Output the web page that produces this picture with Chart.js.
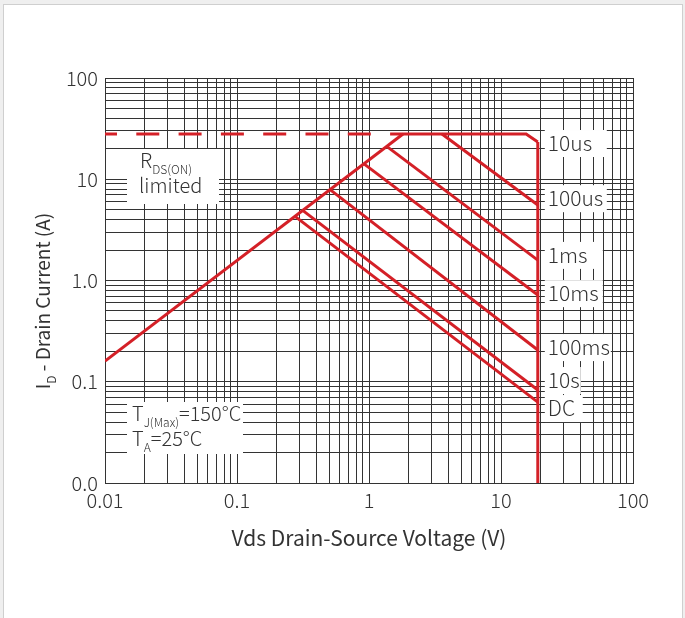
<!DOCTYPE html>
<html>
<head>
<meta charset="utf-8">
<script src="https://cdn.jsdelivr.net/npm/chart.js@4.4.1/dist/chart.umd.min.js"></script>
<style>
  html, body { margin: 0; padding: 0; background: #efefef; }
  #card { position: absolute; left: 3px; top: 4px; width: 678px; height: 640px; background: #fff; border: 1px solid #cfcfcf; }
  #wrap { position: absolute; left: 0; top: 0; width: 685px; height: 618px; }
</style>
</head>
<body>
<div id="card"></div>
<div id="wrap"><canvas id="soa" width="685" height="618"></canvas></div>
<script>
const FONT = "'Noto Sans CJK SC', 'Noto Sans', sans-serif";
const RED = '#d42027';
const INK = '#333';

// axis decades and their labels
const decades = [0.01, 0.1, 1, 10, 100];
const xTickLabels = ['0.01', '0.1', '1', '10', '100'];
const yTickLabels = ['0.0', '0.1', '1.0', '10', '100'];

// SOA curves: Vds (V) and Id (A)
const rdsLineV = [0.01, 1.81];
const rdsLineI = [0.16, 28];
const rdsLimitV = [0.01, 1.81];
const rdsLimitI = [28, 28];
const us10V = [1.81, 15.5, 19];
const us10I = [28, 28, 23.3];
const vmaxV = [19, 19];
const vmaxI = [23.3, 0.01];
const us100V = [3.57, 19];
const us100I = [28, 5.57];
const ms1V = [1.37, 19];
const ms1I = [21, 1.59];
const ms10V = [0.916, 19];
const ms10I = [14.2, 0.719];
const ms100V = [0.507, 19];
const ms100I = [7.9, 0.206];
const s10V = [0.316, 19];
const s10I = [4.9, 0.083];
const dcV = [0.275, 19];
const dcI = [4.3, 0.063];

const curveNames = ['10us', '100us', '1ms', '10ms', '100ms', '10s', 'DC'];
const curveTagI = [22.8, 6.5, 1.79, 0.75, 0.22, 0.104, 0.055];
const tagBoxW = [62, 62, 58, 58, 66, 36, 38];

// log grid: 1..9 in every decade
const gridVals = [];
decades.slice(0, -1).forEach(d => {
    for (let k = 1; k < 10; k++) gridVals.push(parseFloat((d * k).toPrecision(3)));
});
gridVals.push(decades[decades.length - 1]);

const pts = (xs, ys) => xs.map((x, i) => ({ x: x, y: ys[i] }));
const curve = (label, xs, ys, extra) => Object.assign({
    label: label,
    data: pts(xs, ys),
    borderColor: RED,
    borderWidth: 3,
    pointRadius: 0,
    fill: false,
    tension: 0
}, extra || {});

function drawSub(ctx, x, y, main, sub, rest) {
    ctx.font = `300 20px ${FONT}`;
    ctx.fillText(main, x, y);
    x += ctx.measureText(main).width;
    ctx.font = `300 12px ${FONT}`;
    ctx.fillText(sub, x, y + 6);
    x += ctx.measureText(sub).width;
    if (rest) {
        ctx.font = `300 20px ${FONT}`;
        ctx.fillText(rest, x, y);
    }
}

const notes = {
    id: 'notes',
    beforeDatasetsDraw(chart) {
        const { ctx, chartArea: a, scales: { x, y } } = chart;
        ctx.save();
        ctx.fillStyle = '#fff';
        ctx.fillRect(a.left + 22, a.top + 71, 92, 55);
        ctx.fillRect(a.left + 22, a.top + 324, 116, 52);
        const tx = x.getPixelForValue(19) + 10;
        curveNames.forEach((n, i) => {
            const cy = y.getPixelForValue(curveTagI[i]);
            ctx.fillRect(tx - 3, cy - 13, tagBoxW[i], 27);
        });
        ctx.restore();
    },
    afterDatasetsDraw(chart) {
        const { ctx, chartArea: a, scales: { x, y } } = chart;
        ctx.save();
        ctx.fillStyle = INK;
        ctx.textAlign = 'left';
        ctx.textBaseline = 'alphabetic';
        drawSub(ctx, a.left + 35, a.top + 90, 'R', 'DS(ON)');
        ctx.font = `300 20px ${FONT}`;
        ctx.fillText('limited', a.left + 34, a.top + 115);
        drawSub(ctx, a.left + 27, a.top + 343, 'T', 'J(Max)', '=150°C');
        drawSub(ctx, a.left + 27, a.top + 368, 'T', 'A', '=25°C');

        ctx.textBaseline = 'middle';
        ctx.font = `300 21px ${FONT}`;
        const tx = x.getPixelForValue(19) + 10;
        curveNames.forEach((n, i) => ctx.fillText(n, tx, y.getPixelForValue(curveTagI[i])));

        // y axis title with subscript
        ctx.translate(50, 301);
        ctx.rotate(-Math.PI / 2);
        ctx.textBaseline = 'alphabetic';
        const big = `400 19px ${FONT}`, small = `400 12px ${FONT}`;
        ctx.font = big;
        const w1 = ctx.measureText('I').width, w3 = ctx.measureText(' - Drain Current (A)').width;
        ctx.font = small;
        const w2 = ctx.measureText('D').width;
        let px = -(w1 + w2 + w3) / 2;
        ctx.font = big; ctx.fillText('I', px, 0); px += w1;
        ctx.font = small; ctx.fillText('D', px, 6); px += w2;
        ctx.font = big; ctx.fillText(' - Drain Current (A)', px, 0);
        ctx.restore();
    }
};

const tickFont = { family: FONT, size: 20, weight: 300 };

new Chart(document.getElementById('soa'), {
    type: 'line',
    data: {
        datasets: [
            curve('RDS(ON) limited', rdsLimitV, rdsLimitI, { borderDash: [23, 19.3], borderDashOffset: 11 }),
            curve('RDS(ON)', rdsLineV, rdsLineI),
            curve('10us', us10V, us10I),
            curve('Vds max', vmaxV, vmaxI),
            curve('100us', us100V, us100I),
            curve('1ms', ms1V, ms1I),
            curve('10ms', ms10V, ms10I),
            curve('100ms', ms100V, ms100I),
            curve('10s', s10V, s10I),
            curve('DC', dcV, dcI)
        ]
    },
    options: {
        responsive: false,
        animation: false,
        devicePixelRatio: 1,
        layout: { padding: { left: 0, top: 78, right: 52, bottom: 0 } },
        plugins: { legend: { display: false }, tooltip: { enabled: false } },
        scales: {
            x: {
                type: 'logarithmic',
                min: 0.01,
                max: 100,
                afterBuildTicks: ax => { ax.ticks = gridVals.map(v => ({ value: v })); },
                afterFit: ax => { ax.height = 135; },
                grid: { color: '#333', lineWidth: 1, drawTicks: false },
                border: { color: '#333', width: 1 },
                ticks: {
                    autoSkip: false, maxRotation: 0, padding: 5, color: INK, font: tickFont,
                    callback: v => { const i = decades.indexOf(v); return i >= 0 ? xTickLabels[i] : ''; }
                },
                title: {
                    display: true, text: 'Vds Drain-Source Voltage (V)', color: INK,
                    font: { family: FONT, size: 21, weight: 400 }, padding: { top: 0, bottom: 67 }
                }
            },
            y: {
                type: 'logarithmic',
                min: 0.01,
                max: 100,
                afterBuildTicks: ax => { ax.ticks = gridVals.map(v => ({ value: v })); },
                afterFit: ax => { ax.width = 105; },
                grid: { color: '#333', lineWidth: 1, drawTicks: false },
                border: { color: '#333', width: 1 },
                ticks: {
                    autoSkip: false, padding: 7, color: INK, font: tickFont,
                    callback: v => { const i = decades.indexOf(v); return i >= 0 ? yTickLabels[i] : ''; }
                }
            }
        }
    },
    plugins: [notes]
});
</script>
</body>
</html>
